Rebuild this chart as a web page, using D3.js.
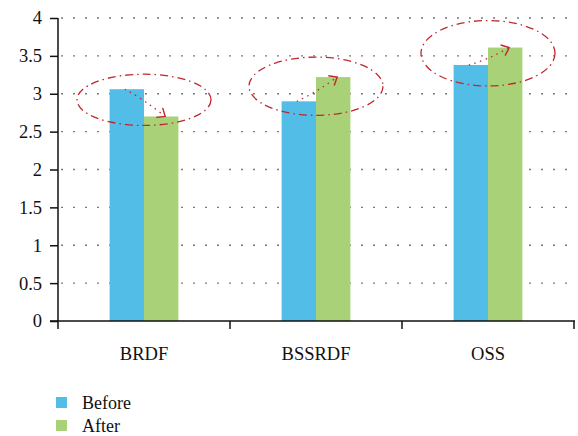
<!DOCTYPE html>
<html>
<head>
<meta charset="utf-8">
<script src="https://cdn.jsdelivr.net/npm/d3@7"></script>
<style>
  body { margin: 0; background: #fff; }
  svg, svg text { font-family: "Liberation Serif", "DejaVu Serif", serif; }
</style>
</head>
<body>
<svg id="chart" width="578" height="436"></svg>
<script>
const categories = ["BRDF", "BSSRDF", "OSS"];
const seriesNames = ["Before", "After"];
const before = [3.06, 2.90, 3.38];
const after = [2.70, 3.22, 3.61];
const yTicks = [0, 0.5, 1, 1.5, 2, 2.5, 3, 3.5, 4];
const colors = ["#52bde6", "#a8d178"];

let svg = d3.select("#chart");
let x0 = d3.scaleBand().domain(categories).range([58, 574]).paddingInner(0).paddingOuter(0);
let x1 = d3.scaleBand().domain(seriesNames).range([0, x0.bandwidth()]).paddingInner(0).paddingOuter(1.5);
let y = d3.scaleLinear().domain([0, 4]).range([321, 18]);

// dotted grid
svg.append("g").selectAll("line").data(yTicks.slice(1)).enter().append("line")
  .attr("x1", 58).attr("x2", 576)
  .attr("y1", d => y(d)).attr("y2", d => y(d))
  .attr("stroke", "#7a7a7a").attr("stroke-width", 1.3)
  .attr("stroke-dasharray", "2,10").attr("stroke-dashoffset", -3);

// bars
let rows = categories.map((c, i) => ({cat: c, vals: [before[i], after[i]]}));
let g = svg.append("g");
g.selectAll("g").data(rows).enter().append("g")
  .attr("transform", d => `translate(${x0(d.cat)},0)`)
  .selectAll("rect").data(d => d.vals.map((v, j) => ({name: seriesNames[j], v: v, j: j})))
  .enter().append("rect")
  .attr("x", d => x1(d.name)).attr("width", x1.bandwidth())
  .attr("y", d => y(d.v)).attr("height", d => y(0) - y(d.v))
  .attr("fill", d => colors[d.j]);

// axes
let yAxis = d3.axisLeft(y).tickValues(yTicks).tickSize(8).tickPadding(8).tickFormat(d3.format("~g"));
let ya = svg.append("g").attr("transform", "translate(58,0)").call(yAxis);
let xAxis = d3.axisBottom(x0).tickSize(0).tickPadding(26);
let xa = svg.append("g").attr("transform", `translate(0,${y(0)})`).call(xAxis);
xa.select(".domain").remove();
svg.append("line").attr("x1", 50).attr("x2", 575).attr("y1", y(0)).attr("y2", y(0))
  .attr("stroke", "#111").attr("stroke-width", 1.5);
svg.append("g").selectAll("line").data([58, ...categories.map(c => x0(c) + x0.bandwidth())]).enter().append("line")
  .attr("x1", d => d).attr("x2", d => d).attr("y1", y(0)).attr("y2", y(0) + 8)
  .attr("stroke", "#111").attr("stroke-width", 1.5);
[ya, xa].forEach(a => {
  a.attr("font-family", null).style("font-family", "'Liberation Serif', serif");
  a.selectAll(".domain, .tick line").attr("stroke", "#111").attr("stroke-width", 1.5);
  a.selectAll("text").attr("font-size", 18.5).attr("fill", "#111");
});
ya.select(".domain").attr("d", `M0,${y(4)}V${y(0)}`);

// ellipse + arrow annotations
let ringPad = [12, 17, 24];
let ann = svg.append("g");
rows.forEach((r, i) => {
  let cx = x0(r.cat) + x0.bandwidth() / 2;
  let yb = y(r.vals[0]), ya2 = y(r.vals[1]);
  let cy = (yb + ya2) / 2 - 3;
  ann.append("ellipse").attr("cx", cx).attr("cy", cy)
    .attr("rx", 67).attr("ry", Math.abs(yb - ya2) / 2 + ringPad[i])
    .attr("fill", "none").attr("stroke", "#c1272d").attr("stroke-width", 1.3)
    .attr("stroke-dasharray", "8,4,1.5,4");
  let sx = x0(r.cat) + x1("Before") + x1.bandwidth() / 2 - 2;
  let ex = x0(r.cat) + x1("After") + x1.bandwidth() / 2 + 4;
  let p = d3.path();
  p.moveTo(sx, yb);
  p.quadraticCurveTo((sx + ex) / 2 - 2, (yb + ya2) / 2 + (ya2 > yb ? -4 : 4), ex, ya2);
  ann.append("path").attr("d", p.toString())
    .attr("fill", "none").attr("stroke", "#c1272d").attr("stroke-width", 1.3)
    .attr("stroke-dasharray", "1.5,4.5");
  // open arrow head
  let ang = Math.atan2(ya2 - (yb + ya2) / 2, ex - (sx + ex) / 2);
  let h = [ang + Math.PI * 0.78, ang - Math.PI * 0.78].map(a => [ex + 9 * Math.cos(a), ya2 + 9 * Math.sin(a)]);
  ann.append("path").attr("d", `M${h[0]}L${ex},${ya2}L${h[1]}`)
    .attr("fill", "none").attr("stroke", "#c1272d").attr("stroke-width", 1.4);
});

// legend
let lg = svg.append("g").attr("transform", "translate(56,397)");
let li = lg.selectAll("g").data(seriesNames).enter().append("g")
  .attr("transform", (d, i) => `translate(0,${i * 23})`);
li.append("rect").attr("width", 11).attr("height", 11).attr("fill", (d, i) => colors[i]);
li.append("text").attr("x", 26).attr("y", 12).text(d => d)
  .attr("font-size", 18).attr("fill", "#111");
</script>
</body>
</html>
